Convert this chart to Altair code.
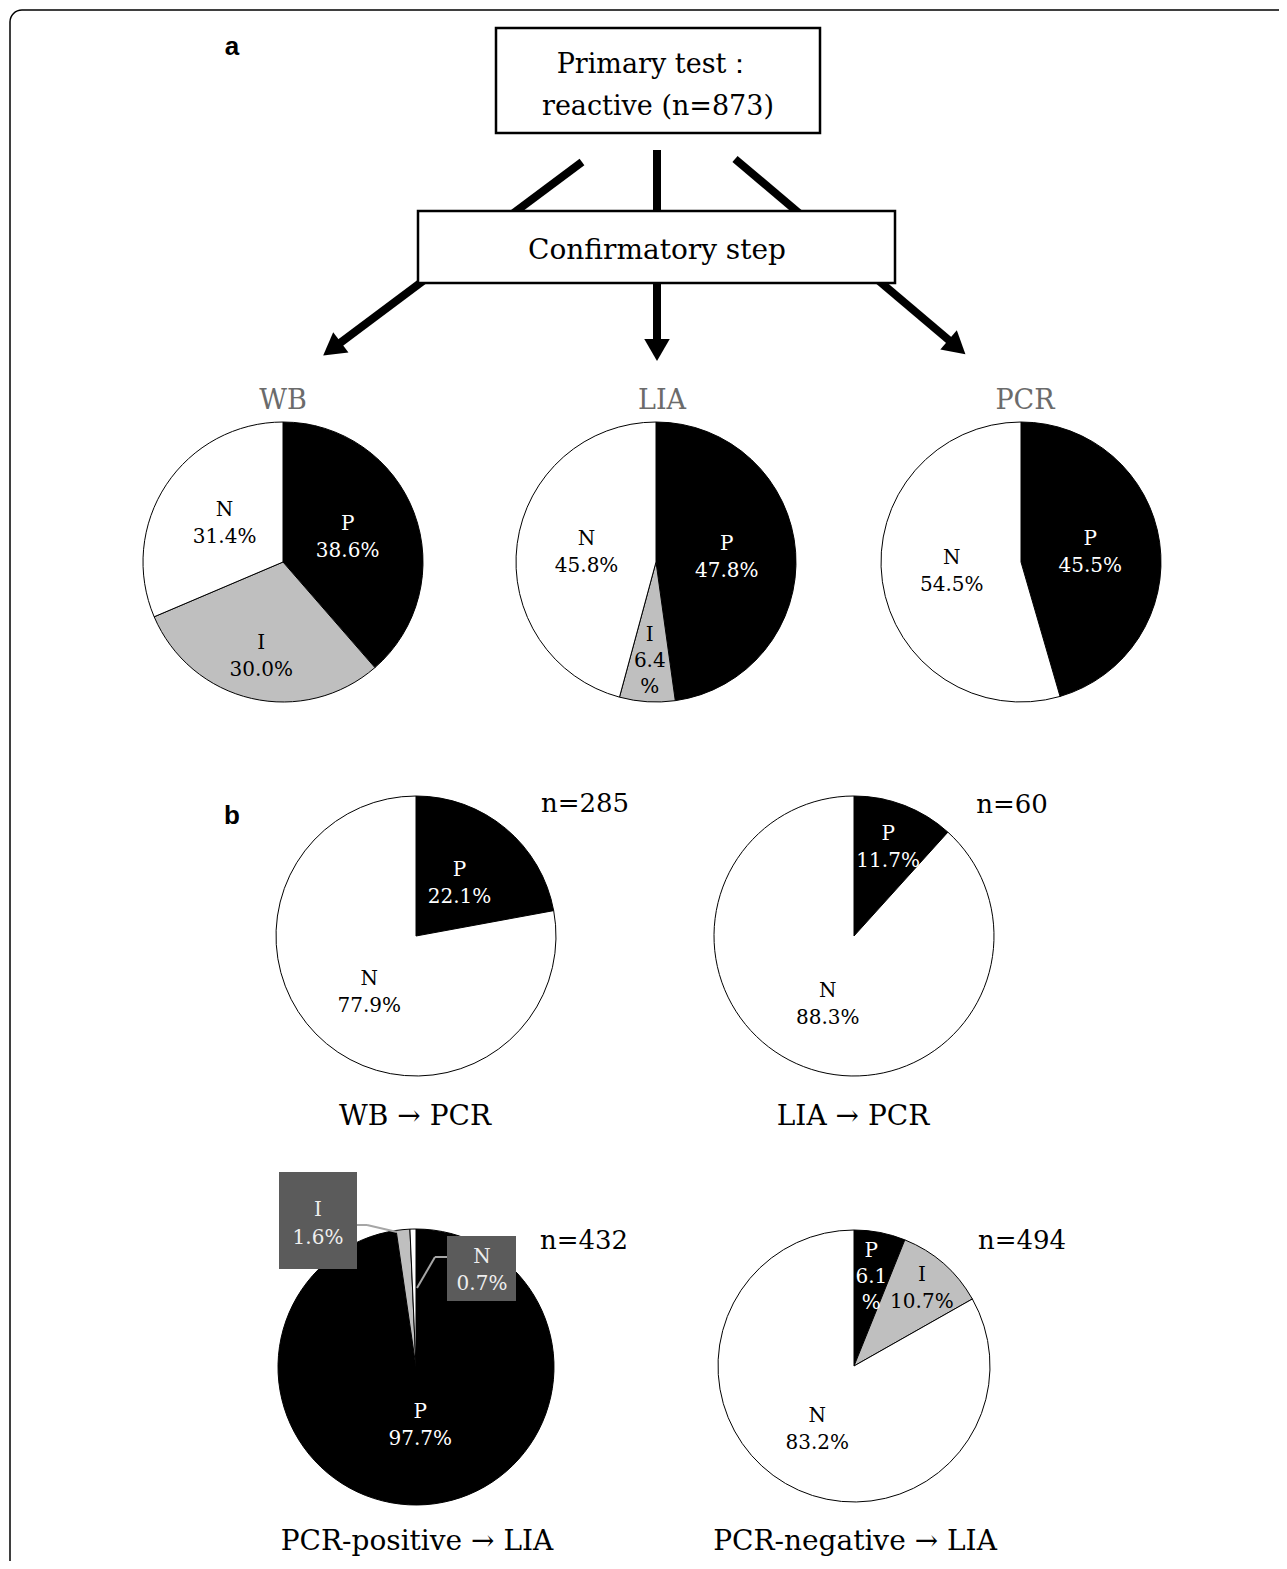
import altair as alt
import pandas as pd

# ---------------- data ----------------
WB_CATS = ["P", "I", "N"]
WB_PCT = [38.6, 30.0, 31.4]
LIA_CATS = ["P", "I", "N"]
LIA_PCT = [47.8, 6.4, 45.8]
PCR_CATS = ["P", "N"]
PCR_PCT = [45.5, 54.5]

WBPCR_CATS = ["P", "N"]
WBPCR_PCT = [22.1, 77.9]
LIAPCR_CATS = ["P", "N"]
LIAPCR_PCT = [11.7, 88.3]
POS_CATS = ["P", "I", "N"]
POS_PCT = [97.7, 1.6, 0.7]
NEG_CATS = ["P", "I", "N"]
NEG_PCT = [6.1, 10.7, 83.2]

A_TITLES = ["WB", "LIA", "PCR"]
B_TITLES = ["WB → PCR", "LIA → PCR", "PCR-positive → LIA", "PCR-negative → LIA"]
B_N = ["n=285", "n=60", "n=432", "n=494"]
BOX1_LINES = ["Primary test：", "reactive (n=873)"]
BOX2_TEXT = "Confirmatory step"
PANEL_TAGS = ["a", "b"]

# ---------------- styling / layout ----------------
M = 8  # page margin
SERIF = "DejaVu Serif"
COLOR = alt.Scale(domain=["P", "I", "N"], range=["#000000", "#bfbfbf", "#ffffff"])
THETA = alt.Scale(domain=[0, 100])
ONE = alt.Data(values=[{}])
LH = 27


def p(v):
    return v - M


def text_layer(txt, x, y, size, color="black", font=SERIF, weight="normal", baseline="alphabetic"):
    return alt.Chart(pd.DataFrame({"t": [txt]})).mark_text(
        font=font, fontSize=size, color=color, fontWeight=weight,
        align="center", baseline=baseline
    ).encode(text="t:N", x=alt.value(p(x)), y=alt.value(p(y)))


def rule(x1, y1, x2, y2, w=8, color="black"):
    return alt.Chart(ONE).mark_rule(strokeWidth=w, color=color).encode(
        x=alt.value(p(x1)), y=alt.value(p(y1)), x2=alt.value(p(x2)), y2=alt.value(p(y2)))


def box(x1, y1, x2, y2, fill="white", stroke="black", sw=2.5, cr=0, fo=1):
    return alt.Chart(ONE).mark_rect(fill=fill, fillOpacity=fo, stroke=stroke, strokeWidth=sw,
                                    cornerRadius=cr).encode(
        x=alt.value(p(x1)), y=alt.value(p(y1)), x2=alt.value(p(x2)), y2=alt.value(p(y2)))


def arrowhead(x, y, angle):
    return alt.Chart(ONE).mark_point(shape="triangle-down", size=650, filled=True,
                                     color="black", opacity=1, angle=angle).encode(
        x=alt.value(p(x)), y=alt.value(p(y)))


def pie(cats, pcts, cx, cy, r, label_r, wrap=(), skip=()):
    labs = [f"{c}\n{v:.1f}\n%" if c in wrap else f"{c}\n{v:.1f}%" for c, v in zip(cats, pcts)]
    df = pd.DataFrame({"cat": cats, "pct": pcts, "ord": list(range(len(cats))), "lab": labs})
    base = alt.Chart(df)
    layers = [base.mark_arc(radius=r, stroke="black", strokeWidth=1).encode(
        theta=alt.Theta("pct:Q", stack=True, scale=THETA),
        color=alt.Color("cat:N", scale=COLOR, legend=None),
        order=alt.Order("ord:Q"),
        x=alt.value(p(cx)), y=alt.value(p(cy)))]
    for c in cats:
        if c in skip:
            continue
        nlines = 3 if c in wrap else 2
        lh = 26 if nlines == 3 else LH
        t = base.transform_window(
            cum="sum(pct)", sort=[alt.SortField("ord")], frame=[None, 0]
        ).transform_calculate(
            mid="datum.cum - datum.pct / 2"
        ).transform_filter(
            alt.datum.cat == c
        ).mark_text(
            radius=label_r[c], font=SERIF, fontSize=20, lineBreak="\n", lineHeight=lh,
            align="center", baseline="middle", dy=-(nlines - 1) * lh / 2,
            color="white" if c == "P" else "black"
        ).encode(
            theta=alt.Theta("mid:Q", scale=THETA),
            text="lab:N",
            x=alt.value(p(cx)), y=alt.value(p(cy)))
        layers.append(t)
    return layers


layers = []

# outer frame
layers.append(box(10, 10, 1300, 1600, fill="white", fo=0, sw=1.5, cr=12))

# panel tags
layers.append(text_layer(PANEL_TAGS[0], 232, 55, 26, font="Liberation Sans", weight="bold"))
layers.append(text_layer(PANEL_TAGS[1], 232, 824, 26, font="Liberation Sans", weight="bold"))

# flow lines (drawn behind boxes)
layers.append(rule(582, 162, 332, 349))
layers.append(rule(657, 150, 657, 350))
layers.append(rule(735, 159, 957, 347))
layers.append(arrowhead(332, 349, 53.2))
layers.append(arrowhead(657, 350, 0))
layers.append(arrowhead(957, 347, 310.3))

# boxes
layers.append(box(496, 28, 820, 133))
layers.append(text_layer(BOX1_LINES[0], 655, 73, 27))
layers.append(text_layer(BOX1_LINES[1], 658, 115, 27))
layers.append(box(418, 211, 895, 283))
layers.append(text_layer(BOX2_TEXT, 657, 259, 28))

# panel a titles
for t, x in zip(A_TITLES, [283, 662, 1025]):
    layers.append(text_layer(t, x, 409, 27, color="#6b6b6b"))

# panel a pies
layers += pie(WB_CATS, WB_PCT, 283, 562, 140, {"P": 69, "I": 97, "N": 70})
layers += pie(LIA_CATS, LIA_PCT, 656, 562, 140, {"P": 71, "I": 99, "N": 70}, wrap=("I",))
layers += pie(PCR_CATS, PCR_PCT, 1021, 562, 140, {"P": 70, "N": 70})

# panel b pies
layers += pie(WBPCR_CATS, WBPCR_PCT, 416, 936, 140, {"P": 68, "N": 73})
layers += pie(LIAPCR_CATS, LIAPCR_PCT, 854, 936, 140, {"P": 95, "N": 73})
layers += pie(POS_CATS, POS_PCT, 416, 1367, 138, {"P": 59}, skip=("I", "N"))
layers += pie(NEG_CATS, NEG_PCT, 854, 1366, 136, {"P": 91, "I": 103, "N": 73}, wrap=("P",))

# callouts for PCR-positive small slices
layers.append(rule(357, 1225, 367, 1225, w=2, color="#a6a6a6"))
layers.append(rule(367, 1225, 397, 1232, w=2, color="#a6a6a6"))
layers.append(rule(447, 1257, 435, 1257, w=2, color="#a6a6a6"))
layers.append(rule(435, 1257, 417, 1288, w=2, color="#a6a6a6"))
layers.append(box(279, 1172, 357, 1269, fill="#5b5b5b", stroke="#5b5b5b", sw=0))
layers.append(box(447, 1236, 516, 1301, fill="#5b5b5b", stroke="#5b5b5b", sw=0))
layers.append(text_layer(POS_CATS[1], 318, 1210, 20, color="#eeeeee", baseline="middle"))
layers.append(text_layer(f"{POS_PCT[1]:.1f}%", 318, 1238, 20, color="#eeeeee", baseline="middle"))
layers.append(text_layer(POS_CATS[2], 482, 1257, 20, color="#eeeeee", baseline="middle"))
layers.append(text_layer(f"{POS_PCT[2]:.1f}%", 482, 1284, 20, color="#eeeeee", baseline="middle"))

# panel b titles and n labels
for t, (x, y) in zip(B_TITLES, [(415, 1125), (853, 1125), (417, 1550), (855, 1550)]):
    layers.append(text_layer(t, x, y, 28))
for t, (x, y) in zip(B_N, [(585, 812), (1012, 813), (584, 1249), (1022, 1249)]):
    layers.append(text_layer(t, x, y, 26))

chart = alt.layer(*layers).properties(
    width=1271, height=1553, autosize=alt.AutoSizeParams(type="none"), padding=0,
    background="white"
).configure_view(stroke=None)

chart.save("out.html", embed_options={"renderer": "svg", "actions": False})
